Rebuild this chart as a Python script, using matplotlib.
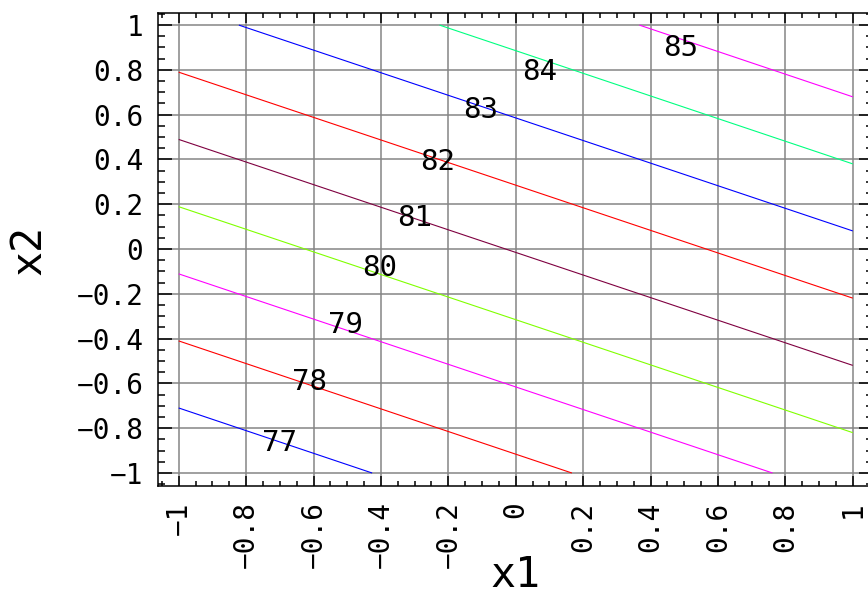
import numpy as np
import matplotlib
matplotlib.use("Agg")
import matplotlib.pyplot as plt
from matplotlib.ticker import MultipleLocator

# ---- data ----
x1_grid = [-1.0, 0.0, 1.0]
x2_grid = [-1.0, 0.0, 1.0]
# z values at grid nodes (rows: x2, columns: x1)
z_row_m1 = [76.03, 77.72, 79.40]
z_row_0 = [79.37, 81.05, 82.73]
z_row_p1 = [82.70, 84.38, 86.07]
levels = [77, 78, 79, 80, 81, 82, 83, 84, 85]
level_colors = ['#0000ff', '#ff0000', '#ff00ff', '#80ff00', '#7f0040',
                '#ff0000', '#0000ff', '#00ff80', '#ff00ff']
tick_values = [-1, -0.8, -0.6, -0.4, -0.2, 0, 0.2, 0.4, 0.6, 0.8, 1]
tick_labels = ['−1', '−0.8', '−0.6', '−0.4', '−0.2', '0', '0.2', '0.4', '0.6', '0.8', '1']

# label anchor points (layout)
label_pos = [(-0.70, -0.866), (-0.613, -0.594), (-0.504, -0.339), (-0.403, -0.085),
             (-0.299, 0.138), (-0.231, 0.388), (-0.103, 0.621), (0.072, 0.790),
             (0.488, 0.897)]

FONT = 'DejaVu Sans Mono'
plt.rcParams['font.family'] = FONT

fig = plt.figure(figsize=(8.68, 5.95), dpi=100)
L, R, T, B = 158, 873, 13, 486
W, H = 868, 595
ax = fig.add_axes([L / W, (H - B) / H, (R - L) / W, (B - T) / H])

X, Y = np.meshgrid(x1_grid, x2_grid)
Z = np.array([z_row_m1, z_row_0, z_row_p1])

cs = ax.contour(X, Y, Z, levels=levels, colors=level_colors, linewidths=0.8, zorder=3)
for lev, (px, py) in zip(levels, label_pos):
    ax.text(px, py, f'{lev}', fontsize=21, ha='center', va='center',
            color='black', zorder=4)

ax.set_xlim(-1.0614, 1.060)
ax.set_ylim(-1.058, 1.054)

ax.set_xticks(tick_values)
ax.set_xticklabels(tick_labels, rotation=90, fontsize=20)
ax.set_yticks(tick_values)
ax.set_yticklabels(tick_labels, fontsize=20)
ax.xaxis.set_minor_locator(MultipleLocator(0.05))
ax.yaxis.set_minor_locator(MultipleLocator(0.05))

ax.tick_params(axis='both', which='both', direction='in', top=True, right=True,
               width=1.1, color='black')
ax.tick_params(axis='x', which='major', length=7, pad=11)
ax.tick_params(axis='x', which='minor', length=3.5)
ax.tick_params(axis='y', which='major', length=10, pad=10.5)
ax.tick_params(axis='y', which='minor', length=5)

ax.grid(True, which='major', color='#858585', linewidth=1.1)
ax.set_axisbelow(True)
for s in ax.spines.values():
    s.set_linewidth(1.1)

ax.set_xlabel('x1', fontsize=30, va='center')
ax.xaxis.set_label_coords((515 - L) / (R - L), (B - 575) / (B - T))
ax.set_ylabel('x2', fontsize=30, va='center')
ax.yaxis.set_label_coords((28 - L) / (R - L), (B - 250) / (B - T))

fig.savefig('out.png', dpi=100)
